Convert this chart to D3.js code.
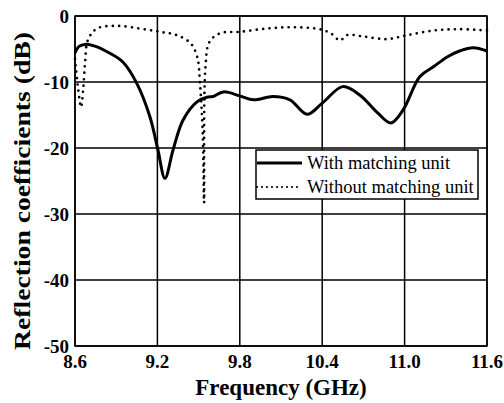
<!DOCTYPE html>
<html>
<head>
<meta charset="utf-8">
<script src="https://cdn.jsdelivr.net/npm/d3@7"></script>
<style>
  body { margin: 0; background: #fff; }
  svg text { font-family: "Liberation Serif", "Times New Roman", serif; fill: #000; }
</style>
</head>
<body>
<svg id="chart"></svg>
<script>
// Chart size and plot margins
const width = 504;
const height = 403;
const margin = { top: 16, right: 17, bottom: 57, left: 75 };

// Tick values
const xTicks = [8.6, 9.2, 9.8, 10.4, 11.0, 11.6];
const yTicks = [0, -10, -20, -30, -40, -50];

// With matching unit
const withFreq = [8.6, 8.63, 8.673, 8.75, 8.85, 8.95, 9.05, 9.146, 9.204, 9.255, 9.314, 9.386, 9.488, 9.56, 9.605, 9.68, 9.8, 9.9, 10.04, 10.165, 10.29, 10.4, 10.55, 10.675, 10.8, 10.9, 10.99, 11.11, 11.21, 11.31, 11.4, 11.5, 11.6];
const withVals = [-5.6, -4.6, -4.3, -4.6, -5.6, -7.0, -10.2, -15.3, -20.3, -24.6, -20.3, -15.8, -13.0, -12.3, -12.2, -11.5, -12.1, -12.7, -12.2, -12.7, -14.9, -13.2, -10.7, -12.0, -14.6, -16.2, -14.2, -9.2, -7.7, -6.2, -5.3, -4.8, -5.3];

// Without matching unit
const withoutFreq = [8.6, 8.62, 8.644, 8.66, 8.673, 8.695, 8.76, 8.906, 9.07, 9.22, 9.34, 9.44, 9.49, 9.51, 9.53, 9.54, 9.55, 9.58, 9.66, 9.8, 10.0, 10.19, 10.38, 10.46, 10.53, 10.58, 10.7, 10.87, 11.02, 11.21, 11.4, 11.6];
const withoutVals = [-6.5, -10.5, -13.8, -11.0, -7.2, -3.6, -1.9, -1.5, -1.9, -2.4, -2.9, -4.1, -6.2, -10.2, -17.8, -28.3, -7.7, -3.9, -2.6, -2.4, -1.9, -1.7, -2.0, -2.6, -3.7, -2.9, -3.1, -3.5, -2.9, -2.2, -2.0, -2.2];

const legendLabels = ["With matching unit", "Without matching unit"];

const svg = d3.select("#chart")
    .attr("width", width)
    .attr("height", height);

const x = d3.scaleLinear().domain([8.6, 11.6]).range([margin.left, width - margin.right]);
const y = d3.scaleLinear().domain([-50, 0]).range([height - margin.bottom, margin.top]);

// Grid lines
svg.append("g").selectAll("line")
    .data(xTicks)
    .join("line")
    .attr("x1", d => x(d)).attr("x2", d => x(d))
    .attr("y1", y(0)).attr("y2", y(-50))
    .attr("stroke", "#000").attr("stroke-width", 1.5);

svg.append("g").selectAll("line")
    .data(yTicks)
    .join("line")
    .attr("x1", x(8.6)).attr("x2", x(11.6))
    .attr("y1", d => y(d)).attr("y2", d => y(d))
    .attr("stroke", "#000").attr("stroke-width", 1.5);

// Tick labels
svg.append("g").selectAll("text")
    .data(xTicks)
    .join("text")
    .attr("x", d => x(d))
    .attr("y", height - margin.bottom + 22)
    .attr("text-anchor", "middle")
    .style("font-size", "19px").style("font-weight", "bold")
    .text(d => d.toFixed(1));

svg.append("g").selectAll("text")
    .data(yTicks)
    .join("text")
    .attr("x", margin.left - 6)
    .attr("y", d => y(d))
    .attr("dy", "0.35em")
    .attr("text-anchor", "end")
    .style("font-size", "19px").style("font-weight", "bold")
    .text(d => d);

// Axis titles
svg.append("text")
    .attr("x", (x(8.6) + x(11.6)) / 2)
    .attr("y", height - 8)
    .attr("text-anchor", "middle")
    .style("font-size", "23px").style("font-weight", "bold")
    .text("Frequency (GHz)");

svg.append("text")
    .attr("transform", `translate(30, ${191}) rotate(-90)`)
    .attr("text-anchor", "middle")
    .style("font-size", "24px").style("font-weight", "bold")
    .attr("textLength", 318).attr("lengthAdjust", "spacingAndGlyphs")
    .text("Reflection coefficients (dB)");

// Curves
const line = d3.line()
    .x(d => x(d[0]))
    .y(d => y(d[1]))
    .curve(d3.curveCatmullRom.alpha(0.5));

svg.append("path")
    .datum(withoutFreq.map((f, i) => [f, withoutVals[i]]))
    .attr("d", line)
    .attr("fill", "none")
    .attr("stroke", "#000")
    .attr("stroke-width", 2.7)
    .attr("stroke-linecap", "round")
    .attr("stroke-dasharray", "0,6.4");

svg.append("path")
    .datum(withFreq.map((f, i) => [f, withVals[i]]))
    .attr("d", line)
    .attr("fill", "none")
    .attr("stroke", "#000")
    .attr("stroke-width", 3);

// Frame
svg.append("rect")
    .attr("x", x(8.6)).attr("y", y(0))
    .attr("width", x(11.6) - x(8.6)).attr("height", y(-50) - y(0))
    .attr("fill", "none").attr("stroke", "#000").attr("stroke-width", 1.5);

// Legend
const legend = svg.append("g");
legend.append("rect")
    .attr("x", 256).attr("y", 150)
    .attr("width", 222).attr("height", 49)
    .attr("fill", "#fff").attr("stroke", "#000").attr("stroke-width", 1.5);

const rows = legend.selectAll("g.row")
    .data(legendLabels)
    .join("g")
    .attr("class", "row")
    .attr("transform", (d, i) => `translate(256, ${163 + i * 24})`);

rows.append("line")
    .attr("x1", 1).attr("x2", 46)
    .attr("stroke", "#000")
    .attr("stroke-width", (d, i) => i === 0 ? 3 : 2.2)
    .attr("stroke-linecap", (d, i) => i === 0 ? "butt" : "round")
    .attr("stroke-dasharray", (d, i) => i === 0 ? null : "0,5");

rows.append("text")
    .attr("x", 51)
    .attr("dy", "0.35em")
    .style("font-size", "18.5px")
    .text(d => d);
</script>
</body>
</html>
